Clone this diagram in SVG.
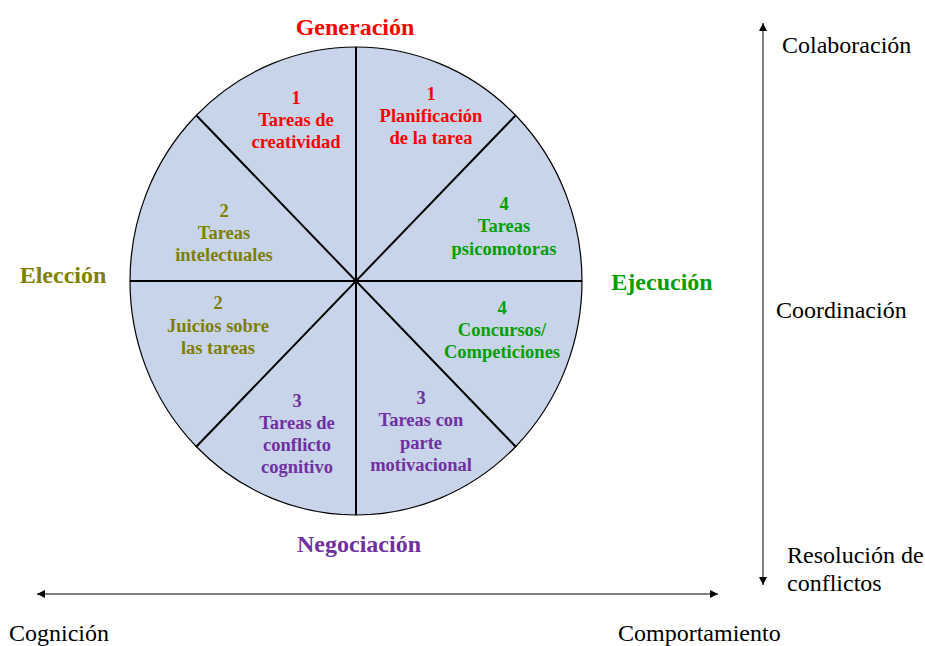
<svg xmlns="http://www.w3.org/2000/svg" width="925" height="646" viewBox="0 0 925 646">
  <style>
    .axis { font-family: "Liberation Serif", "Times New Roman", serif; font-size: 24px; fill: #000; }
    .phase { font-family: "Liberation Serif", "Times New Roman", serif; font-size: 24px; font-weight: bold; text-anchor: middle; }
    .task { font-family: "Liberation Serif", "Times New Roman", serif; font-size: 18.5px; font-weight: bold; text-anchor: middle; }
    .red { fill: #FF0000; }
    .olive { fill: #7F7F00; }
    .green { fill: #00A000; }
    .purple { fill: #7030A0; }
    .divider { stroke: #000; stroke-width: 2; }
    .arrow { stroke: #000; stroke-width: 1; fill: none; }
  </style>
  <defs>
    <marker id="head" viewBox="0 0 10 10" refX="10" refY="5" markerWidth="8" markerHeight="8" markerUnits="userSpaceOnUse" orient="auto-start-reverse">
      <path d="M0,0 L10,5 L0,10 Z" fill="#000"/>
    </marker>
  </defs>
  <rect width="925" height="646" fill="#fff"/>

  <!-- wheel -->
  <g id="wheel">
    <ellipse cx="356" cy="281" rx="226" ry="234" fill="#C7D4EA" stroke="#000" stroke-width="1.2"/>
    <line class="divider" x1="130" y1="281" x2="582" y2="281"/>
    <line class="divider" x1="356" y1="47" x2="356" y2="515"/>
    <line class="divider" x1="196" y1="115" x2="516" y2="447" stroke-width="1.5"/>
    <line class="divider" x1="516" y1="115" x2="196" y2="447" stroke-width="1.5"/>
  </g>

  <!-- sectors -->
  <g id="tareas-creatividad">
    <text class="task red" x="296" y="104">1</text>
    <text class="task red" x="296" y="126">Tareas de</text>
    <text class="task red" x="296" y="148">creatividad</text>
  </g>
  <g id="planificacion">
    <text class="task red" x="431" y="100">1</text>
    <text class="task red" x="431" y="122">Planificación</text>
    <text class="task red" x="431" y="144">de la tarea</text>
  </g>
  <g id="tareas-psicomotoras">
    <text class="task green" x="504" y="210">4</text>
    <text class="task green" x="504" y="232">Tareas</text>
    <text class="task green" x="504" y="255">psicomotoras</text>
  </g>
  <g id="tareas-intelectuales">
    <text class="task olive" x="224" y="217">2</text>
    <text class="task olive" x="224" y="239">Tareas</text>
    <text class="task olive" x="224" y="261">intelectuales</text>
  </g>
  <g id="juicios">
    <text class="task olive" x="218" y="309">2</text>
    <text class="task olive" x="218" y="332">Juicios sobre</text>
    <text class="task olive" x="218" y="354">las tareas</text>
  </g>
  <g id="concursos">
    <text class="task green" x="502" y="314">4</text>
    <text class="task green" x="502" y="336">Concursos/</text>
    <text class="task green" x="502" y="358">Competiciones</text>
  </g>
  <g id="conflicto-cognitivo">
    <text class="task purple" x="297" y="407">3</text>
    <text class="task purple" x="297" y="429">Tareas de</text>
    <text class="task purple" x="297" y="451">conflicto</text>
    <text class="task purple" x="297" y="473">cognitivo</text>
  </g>
  <g id="parte-motivacional">
    <text class="task purple" x="421" y="404">3</text>
    <text class="task purple" x="421" y="426">Tareas con</text>
    <text class="task purple" x="421" y="449">parte</text>
    <text class="task purple" x="421" y="471">motivacional</text>
  </g>

  <!-- phase labels -->
  <g id="generacion"><text class="phase red" x="355" y="35">Generación</text></g>
  <g id="eleccion"><text class="phase olive" x="63" y="283">Elección</text></g>
  <g id="ejecucion"><text class="phase green" x="662" y="290">Ejecución</text></g>
  <g id="negociacion"><text class="phase purple" x="359" y="552">Negociación</text></g>

  <!-- axes -->
  <g id="connectors">
    <line class="arrow" x1="763" y1="23" x2="763" y2="585" marker-start="url(#head)" marker-end="url(#head)"/>
    <line class="arrow" x1="37" y1="594" x2="718" y2="594" marker-start="url(#head)" marker-end="url(#head)"/>
  </g>

  <g id="axis-labels">
    <text class="axis" x="782" y="53">Colaboración</text>
    <text class="axis" x="776" y="318">Coordinación</text>
    <text class="axis" x="787" y="563">Resolución de</text>
    <text class="axis" x="787" y="591">conflictos</text>
    <text class="axis" x="9" y="641">Cognición</text>
    <text class="axis" x="618" y="641">Comportamiento</text>
  </g>
</svg>
